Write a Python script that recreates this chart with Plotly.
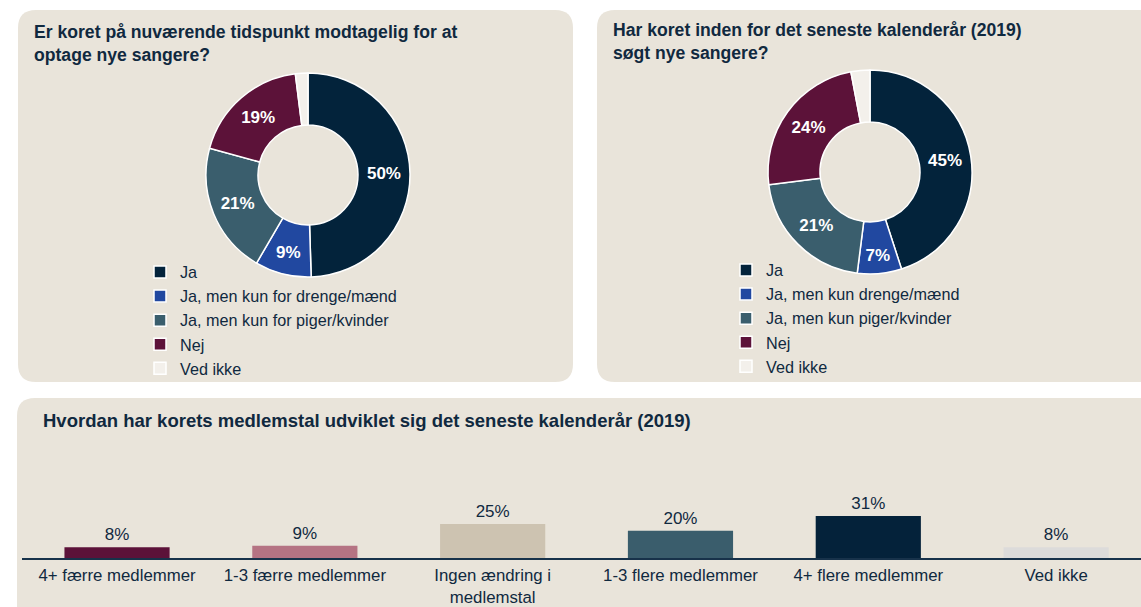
import plotly.graph_objects as go

W, H = 1141, 607
NAVY_TXT = "#10293F"
BG = "#E9E4DA"
FONT = "Liberation Sans, Arial, sans-serif"

# ---------------- data ----------------
title1 = "Er koret på nuværende tidspunkt modtagelig for at<br>optage nye sangere?"
labels1 = ["Ja", "Ja, men kun for drenge/mænd", "Ja, men kun for piger/kvinder", "Nej", "Ved ikke"]
values1 = [50, 9, 21, 19, 2]

title2 = "Har koret inden for det seneste kalenderår (2019)<br>søgt nye sangere?"
labels2 = ["Ja", "Ja, men kun drenge/mænd", "Ja, men kun piger/kvinder", "Nej", "Ved ikke"]
values2 = [45, 7, 21, 24, 3]

pie_colors = ["#03233B", "#2148A0", "#3A5E6D", "#5C1239", "#F3F0EB"]

title3 = "Hvordan har korets medlemstal udviklet sig det seneste kalenderår (2019)"
bar_categories = ["4+ færre medlemmer", "1-3 færre medlemmer", "Ingen ændring i<br>medlemstal",
                  "1-3 flere medlemmer", "4+ flere medlemmer", "Ved ikke"]
bar_values = [8, 9, 25, 20, 31, 8]
bar_colors = ["#5C1239", "#B57383", "#CDC3B1", "#3A5D6C", "#04223A", "#DCDBDA"]


# ---------------- helpers ----------------
def X(x):
    return x / W


def Y(y):
    return 1 - y / H


def rrect(x0, y0, x1, y1, r):
    return (f"M {X(x0 + r)},{Y(y0)} L {X(x1 - r)},{Y(y0)} Q {X(x1)},{Y(y0)} {X(x1)},{Y(y0 + r)} "
            f"L {X(x1)},{Y(y1 - r)} Q {X(x1)},{Y(y1)} {X(x1 - r)},{Y(y1)} "
            f"L {X(x0 + r)},{Y(y1)} Q {X(x0)},{Y(y1)} {X(x0)},{Y(y1 - r)} "
            f"L {X(x0)},{Y(y0 + r)} Q {X(x0)},{Y(y0)} {X(x0 + r)},{Y(y0)} Z")


def pie_text(labels, values):
    return ["" if l.strip() == "Ved ikke" else f"{v}%" for l, v in zip(labels, values)]


fig = go.Figure()

# panels
for (x0, y0, x1, y1) in [(18, 10, 573, 382), (597, 10, 1170, 382), (17, 398, 1170, 640)]:
    fig.add_shape(type="path", path=rrect(x0, y0, x1, y1, 18), xref="paper", yref="paper",
                  fillcolor=BG, line=dict(width=0), layer="below")

# donuts (second chart's labels get a trailing space so both legends list every slice)
for labels, values, dom, leg, grp in [
    (labels1, values1, ((206, 410), (73, 277)), "legend", "g1"),
    ([l + " " for l in labels2], values2, ((768, 972), (70, 274)), "legend2", "g2"),
]:
    fig.add_trace(go.Pie(
        labels=labels, values=values, text=pie_text(labels, values), textinfo="text",
        hole=0.49, sort=False, direction="clockwise", rotation=0,
        marker=dict(colors=pie_colors, line=dict(color="white", width=1.5)),
        textposition="inside", insidetextorientation="horizontal",
        insidetextfont=dict(family=FONT, size=17, color="white", weight="bold"),
        domain=dict(x=[X(dom[0][0]), X(dom[0][1])], y=[Y(dom[1][1]), Y(dom[1][0])]),
        legend=leg, legendgroup=grp, hoverinfo="label+percent",
    ))

# bars
fig.add_trace(go.Bar(
    x=bar_categories, y=bar_values, marker=dict(color=bar_colors, line=dict(width=0)),
    width=0.56, text=[f"{v}%" for v in bar_values], textposition="outside",
    textfont=dict(family=FONT, size=17, color=NAVY_TXT), cliponaxis=False,
    showlegend=False, hoverinfo="x+y",
))

# titles
fig.add_annotation(text=title1, x=X(32), y=Y(20), xref="paper", yref="paper",
                   xanchor="left", yanchor="top", align="left", showarrow=False,
                   font=dict(family=FONT, size=17.6, color=NAVY_TXT, weight="bold"))
fig.add_annotation(text=title2, x=X(611), y=Y(18), xref="paper", yref="paper",
                   xanchor="left", yanchor="top", align="left", showarrow=False,
                   font=dict(family=FONT, size=17.6, color=NAVY_TXT, weight="bold"))
fig.add_annotation(text=title3, x=X(41), y=Y(408), xref="paper", yref="paper",
                   xanchor="left", yanchor="top", align="left", showarrow=False,
                   font=dict(family=FONT, size=18.5, color=NAVY_TXT, weight="bold"))

legend_common = dict(xanchor="left", yanchor="top", bgcolor="rgba(0,0,0,0)", borderwidth=0,
                     font=dict(family=FONT, size=16.2, color=NAVY_TXT), traceorder="normal",
                     itemclick=False, itemdoubleclick=False)

fig.update_layout(
    width=W, height=H,
    margin=dict(l=0, r=0, t=0, b=0, autoexpand=False),
    paper_bgcolor="white", plot_bgcolor="rgba(0,0,0,0)",
    font=dict(family=FONT, color=NAVY_TXT),
    legend=dict(x=X(140), y=Y(255), **legend_common),
    legend2=dict(x=X(726), y=Y(253), **legend_common),
    xaxis=dict(domain=[X(22), 1], range=[-0.506, 5.452], type="category", automargin=False,
               showline=True, linecolor="#17324A", linewidth=1.5, ticks="",
               showgrid=False, zeroline=False, fixedrange=True, ticklabelstandoff=1,
               tickfont=dict(family=FONT, size=16.8, color=NAVY_TXT)),
    yaxis=dict(domain=[Y(558), Y(440)], range=[0, 87], visible=False, fixedrange=True,
               automargin=False),
    showlegend=True,
)

fig.write_html("out.html", post_script="document.body.style.margin='0';",
               config={"displayModeBar": False})
